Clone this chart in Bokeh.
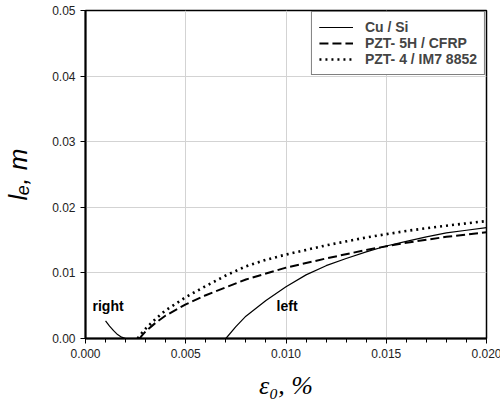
from bokeh.plotting import figure
from bokeh.models import Range1d, FixedTicker, NumeralTickFormatter, Legend, LegendItem, Label
from bokeh.embed import file_html
from bokeh.resources import INLINE

# --- data ---
cu_right_x = [0.0010, 0.0012, 0.0014, 0.0016, 0.0018, 0.0020]
cu_right_y = [0.0027, 0.0019, 0.0012, 0.0006, 0.0002, 0.0000]
cu_left_x = [0.0070, 0.0075, 0.0080, 0.0090, 0.0100, 0.0110, 0.0120, 0.0130, 0.0140, 0.0150,
             0.0160, 0.0170, 0.0180, 0.0190, 0.0200]
cu_left_y = [0.0000, 0.0018, 0.0034, 0.0058, 0.0079, 0.0097, 0.0111, 0.0122, 0.0132, 0.0141,
             0.0148, 0.0155, 0.0161, 0.0165, 0.0169]
pzt5_x = [0.0027, 0.0028, 0.0030, 0.0035, 0.0040, 0.0050, 0.0060, 0.0070, 0.0080, 0.0090,
          0.0100, 0.0120, 0.0140, 0.0160, 0.0180, 0.0200]
pzt5_y = [0.0000, 0.0004, 0.0011, 0.0024, 0.0035, 0.0052, 0.0066, 0.0078, 0.0090, 0.0099,
          0.0108, 0.0122, 0.0135, 0.0146, 0.0155, 0.0162]
pzt4_x = [0.0026, 0.0028, 0.0030, 0.0035, 0.0040, 0.0050, 0.0060, 0.0070, 0.0080, 0.0090,
          0.0100, 0.0120, 0.0140, 0.0160, 0.0180, 0.0200]
pzt4_y = [0.0000, 0.0008, 0.0015, 0.0030, 0.0043, 0.0063, 0.0080, 0.0096, 0.0110, 0.0120,
          0.0128, 0.0142, 0.0154, 0.0164, 0.0172, 0.0179]
x_ticks = [0.000, 0.005, 0.010, 0.015, 0.020]
y_ticks = [0.00, 0.01, 0.02, 0.03, 0.04, 0.05]
series_names = ["Cu / Si", "PZT- 5H / CFRP", "PZT- 4 / IM7 8852"]
annotations = [("right", 0.00035, 0.0050), ("left", 0.00953, 0.0050)]

SANS = "Liberation Sans"
SERIF = "Liberation Serif"

p = figure(width=500, height=404, output_backend="svg", toolbar_location=None,
           x_range=Range1d(0, 0.02), y_range=Range1d(0, 0.05),
           min_border_left=82, min_border_right=17, min_border_top=10, min_border_bottom=66)
p.frame_width = 401
p.frame_height = 328
p.background_fill_color = "white"
p.border_fill_color = "white"
p.outline_line_color = "black"
p.outline_line_width = 1.5

p.xaxis.ticker = FixedTicker(ticks=x_ticks, minor_ticks=[i * 0.001 for i in range(21)])
p.yaxis.ticker = FixedTicker(ticks=y_ticks)
p.xaxis.formatter = NumeralTickFormatter(format="0.000")
p.yaxis.formatter = NumeralTickFormatter(format="0.00")

for ax in (p.xaxis[0], p.yaxis[0]):
    ax.axis_line_width = 2
    ax.axis_line_color = "black"
    ax.major_tick_line_color = "black"
    ax.major_tick_in = 0
    ax.major_tick_out = 5
    ax.minor_tick_in = 0
    ax.minor_tick_out = 4
    ax.minor_tick_line_color = "black"
    ax.major_label_text_font = SANS
    ax.major_label_text_font_size = "12px"
    ax.major_label_text_color = "#222222"
    ax.major_label_standoff = 5
p.yaxis.minor_tick_line_color = None

p.xaxis.axis_label = "ε₀, %"
p.xaxis.axis_label_text_font = SERIF
p.xaxis.axis_label_text_font_style = "italic"
p.xaxis.axis_label_text_font_size = "26px"
p.xaxis.axis_label_standoff = 10
p.xaxis.axis_label_text_color = "black"

p.yaxis.axis_label = "lₑ, m"
p.yaxis.axis_label_text_font = SANS
p.yaxis.axis_label_text_font_style = "italic"
p.yaxis.axis_label_text_font_size = "26px"
p.yaxis.axis_label_standoff = 16
p.yaxis.axis_label_text_color = "black"

p.xgrid.grid_line_color = "#d3d3d3"
p.ygrid.grid_line_color = "#d3d3d3"
p.xgrid.grid_line_width = 1
p.ygrid.grid_line_width = 1

r1 = p.line(cu_right_x, cu_right_y, line_color="black", line_width=1.2)
r2 = p.line(cu_left_x, cu_left_y, line_color="black", line_width=1.2)
r3 = p.line(pzt5_x, pzt5_y, line_color="black", line_width=2, line_dash="9 4")
r4 = p.line(pzt4_x, pzt4_y, line_color="black", line_width=2.6, line_dash="2 4")

legend = Legend(items=[LegendItem(label=series_names[0], renderers=[r1, r2]),
                       LegendItem(label=series_names[1], renderers=[r3]),
                       LegendItem(label=series_names[2], renderers=[r4])],
                location="top_right")
legend.margin = 1
legend.padding = 7
legend.spacing = 0
legend.label_height = 16
legend.glyph_height = 16
legend.glyph_width = 34
legend.label_standoff = 12
legend.label_text_font = SANS
legend.label_text_font_style = "bold"
legend.label_text_font_size = "14px"
legend.border_line_color = "black"
legend.border_line_width = 1.5
legend.background_fill_alpha = 1
p.add_layout(legend)

for txt, tx, ty in annotations:
    p.add_layout(Label(x=tx, y=ty, text=txt, text_font=SANS, text_font_style="bold",
                       text_font_size="14px", text_baseline="middle", text_align="left",
                       text_color="black"))

open("out.html", "w").write(file_html(p, INLINE))
